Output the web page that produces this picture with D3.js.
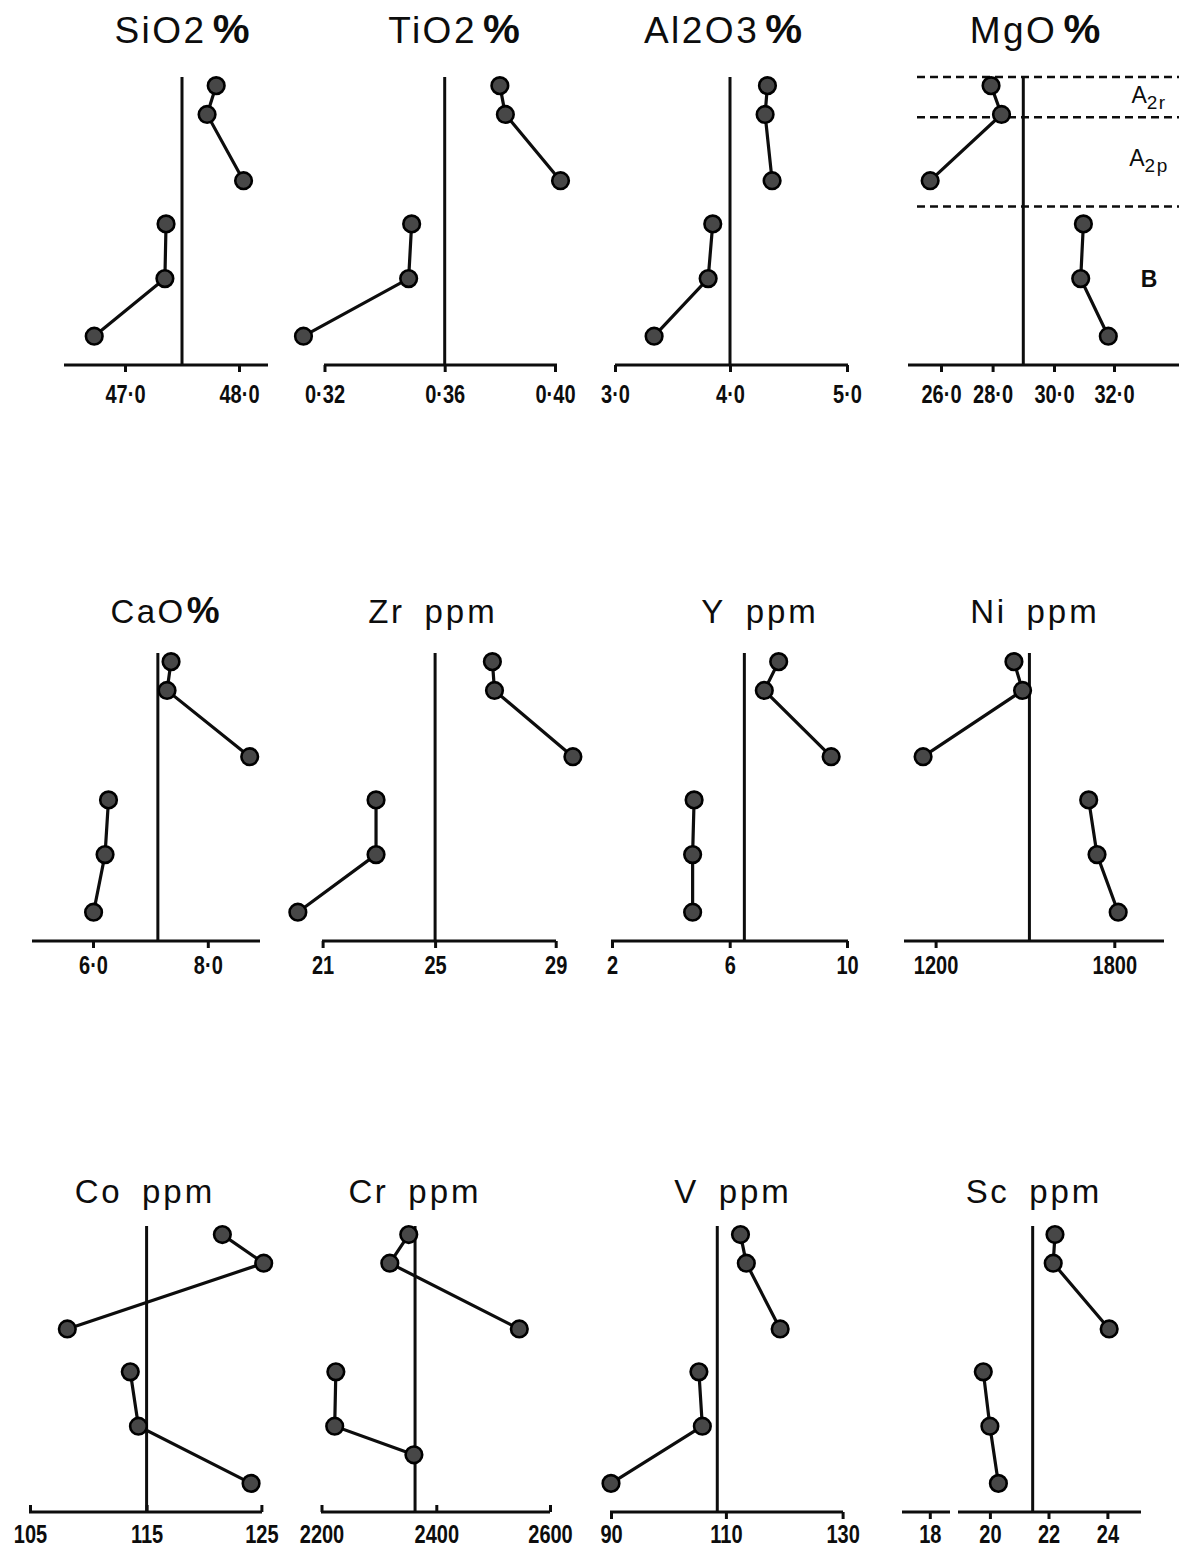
<!DOCTYPE html>
<html>
<head>
<meta charset="utf-8">
<script src="https://cdn.jsdelivr.net/npm/d3@7"></script>
<style>
  body { margin: 0; background: #fff; }
  svg { display: block; }
</style>
</head>
<body>
<svg id="chart" width="1190" height="1551"></svg>
<script>
// Relative sample depth in each profile (0 = top of column, 100 = base line)
const sampleDepth   = [3, 13, 36, 51, 70, 90];
const crSampleDepth = [3, 13, 36, 51, 70, 80];
// Samples joined by a line: upper horizons and lower horizon
const sampleGroups = [[0, 1, 2], [3, 4, 5]];

// Element contents for the six samples
const sio2  = [47.80, 47.72, 48.04, 47.36, 47.35, 46.73];
const tio2  = [0.380, 0.382, 0.402, 0.349, 0.348, 0.313];
const al2o3 = [4.32, 4.30, 4.36, 3.85, 3.81, 3.34];
const mgo   = [27.94, 28.29, 25.58, 30.98, 30.89, 31.81];
const cao   = [7.36, 7.29, 8.73, 6.27, 6.21, 6.01];
const zr    = [26.9, 26.97, 29.57, 22.9, 22.9, 20.12];
const yt    = [7.67, 7.18, 9.46, 4.79, 4.74, 4.74];
const ni    = [1463, 1492, 1158, 1714, 1742, 1813];
const co    = [121.6, 125.2, 108.2, 113.6, 114.3, 124.1];
const cr    = [2352, 2319, 2546, 2225, 2223, 2361];
const v     = [112.5, 113.5, 119.3, 105.3, 105.9, 90.0];
const sc    = [22.22, 22.16, 24.06, 19.78, 20.0, 20.29];

// Reference (parent rock) values drawn as vertical lines
const refValues = [47.5, 0.36, 4.0, 29.0, 7.13, 25, 6.5, 1515, 115, 2363, 108.5, 21.46];

// Axis tick values and their printed labels
const sio2Ticks  = [47.0, 48.0];            const sio2Labels  = ["47·0", "48·0"];
const tio2Ticks  = [0.32, 0.36, 0.40];      const tio2Labels  = ["0·32", "0·36", "0·40"];
const al2o3Ticks = [3.0, 4.0, 5.0];         const al2o3Labels = ["3·0", "4·0", "5·0"];
const mgoTicks   = [26, 28, 30, 32];        const mgoLabels   = ["26·0", "28·0", "30·0", "32·0"];
const caoTicks   = [6.0, 8.0];              const caoLabels   = ["6·0", "8·0"];
const zrTicks    = [21, 25, 29];            const zrLabels    = ["21", "25", "29"];
const yTicks     = [2, 6, 10];              const yLabels     = ["2", "6", "10"];
const niTicks    = [1200, 1800];            const niLabels    = ["1200", "1800"];
const coTicks    = [105, 115, 125];         const coLabels    = ["105", "115", "125"];
const crTicks    = [2200, 2400, 2600];      const crLabels    = ["2200", "2400", "2600"];
const vTicks     = [90, 110, 130];          const vLabels     = ["90", "110", "130"];
const scTicks    = [18, 20, 22, 24];        const scLabels    = ["18", "20", "22", "24"];

// Panel titles
const titleNames = ["SiO2", "TiO2", "Al2O3", "MgO", "CaO", "Zr", "Y", "Ni", "Co", "Cr", "V", "Sc"];
const titleUnits = ["%", "%", "%", "%", "%", "ppm", "ppm", "ppm", "ppm", "ppm", "ppm", "ppm"];

// Soil horizons marked on the MgO profile
const horizonBounds = [0, 14, 45];
const horizonNames  = ["A", "A", "B"];
const horizonSubs   = ["2r", "2p", ""];
const horizonLabelDepth = [9, 31, 73];

const panels = [
  { values: sio2,  ticks: sio2Ticks,  labels: sio2Labels },
  { values: tio2,  ticks: tio2Ticks,  labels: tio2Labels },
  { values: al2o3, ticks: al2o3Ticks, labels: al2o3Labels },
  { values: mgo,   ticks: mgoTicks,   labels: mgoLabels, horizons: true },
  { values: cao,   ticks: caoTicks,   labels: caoLabels },
  { values: zr,    ticks: zrTicks,    labels: zrLabels },
  { values: yt,    ticks: yTicks,     labels: yLabels },
  { values: ni,    ticks: niTicks,    labels: niLabels },
  { values: co,    ticks: coTicks,    labels: coLabels },
  { values: cr,    ticks: crTicks,    labels: crLabels, depth: crSampleDepth },
  { values: v,     ticks: vTicks,     labels: vLabels },
  { values: sc,    ticks: scTicks,    labels: scLabels }
].map((p, i) => Object.assign(p, {
  title: titleNames[i], unit: titleUnits[i], ref: refValues[i],
  depth: p.depth || sampleDepth
}));

// ---- layout -------------------------------------------------------------
const rows = [
  { top: 77,   base: 365,  titleY: 43,   labelY: 403 },
  { top: 653,  base: 941,  titleY: 623,  labelY: 974 },
  { top: 1226, base: 1512, titleY: 1203, labelY: 1543 }
];

// tickX: screen position of each tick (hand-drawn, slightly uneven axes)
const layout = [
  { row: 0, tickX: [125, 239],                 line: [[64, 268]],   titleX: 182,  tickDir: 1 },
  { row: 0, tickX: [324.5, 444.7, 555],        line: [[324, 557]],  titleX: 454,  tickDir: 1 },
  { row: 0, tickX: [615, 730, 847],            line: [[615, 848]],  titleX: 723,  tickDir: 1 },
  { row: 0, tickX: [941, 992.6, 1054, 1114],   line: [[908, 1179]], titleX: 1035, tickDir: 1 },
  { row: 1, tickX: [93, 207.8],                line: [[32, 260]],   titleX: 165,  tickDir: 1 },
  { row: 1, tickX: [322.6, 435.1, 555.7],      line: [[322, 556]],  titleX: 433,  tickDir: 1 },
  { row: 1, tickX: [612, 729.7, 847],          line: [[611, 848]],  titleX: 760,  tickDir: 1 },
  { row: 1, tickX: [935.6, 1114.3],            line: [[904, 1164]], titleX: 1035, tickDir: 1 },
  { row: 2, tickX: [30, 146.6, 261.4],         line: [[29, 262]],   titleX: 145,  tickDir: -1 },
  { row: 2, tickX: [321.5, 436.3, 550],        line: [[321, 550]],  titleX: 415,  tickDir: -1 },
  { row: 2, tickX: [611, 725.9, 842.6],        line: [[610, 843]],  titleX: 733,  tickDir: 1 },
  { row: 2, tickX: [929.8, 989.9, 1048.5, 1107.4], line: [[902, 950], [958, 1141]], titleX: 1034, tickDir: 1 }
];
const mgoDashExtent = [917, 1179];
const horizonLabelX = 1149;

// ---- drawing ------------------------------------------------------------
const svg = d3.select("#chart");
svg.append("rect").attr("width", 1190).attr("height", 1551).attr("fill", "#fff");

const INK = "#0d0d0d";

panels.forEach((p, i) => {
  const L = layout[i];
  const R = rows[L.row];
  const x = d3.scaleLinear().domain(p.ticks).range(L.tickX);
  const y = d3.scaleLinear().domain([0, 100]).range([R.top, R.base]);
  const g = svg.append("g").attr("class", "panel");

  // title
  const t = g.append("text")
    .attr("x", L.titleX).attr("y", R.titleY)
    .attr("text-anchor", "middle")
    .attr("fill", INK)
    .attr("font-family", "'Liberation Sans', Arial, sans-serif");
  const fs = L.row === 0 ? 37 : 33;
  t.append("tspan").text(p.title)
    .attr("font-size", fs).attr("letter-spacing", 2.5);
  if (p.unit === "%") {
    t.append("tspan").text("%")
      .attr("dx", L.row === 0 ? 6 : 1)
      .attr("font-weight", "bold").attr("font-size", fs * 1.12);
  } else {
    t.append("tspan").text("ppm")
      .attr("dx", 20).attr("font-size", fs).attr("letter-spacing", 3);
  }

  // base line of the section
  L.line.forEach(([a, b]) => {
    g.append("line")
      .attr("x1", a).attr("x2", b).attr("y1", R.base).attr("y2", R.base)
      .attr("stroke", INK).attr("stroke-width", 3);
  });

  // ticks and labels (tall, condensed figures)
  const axis = d3.axisBottom(x)
    .tickValues(p.ticks)
    .tickFormat(d => p.labels[p.ticks.indexOf(d)])
    .tickSizeInner(7 * L.tickDir)
    .tickSizeOuter(0);
  const ag = g.append("g").attr("transform", `translate(0,${R.base})`).call(axis);
  ag.select(".domain").remove();
  ag.selectAll(".tick line").attr("stroke", INK).attr("stroke-width", 3);
  ag.selectAll(".tick text")
    .attr("x", 0).attr("y", 0).attr("dy", null)
    .attr("transform", `translate(0,${R.labelY - R.base}) scale(0.8,1)`)
    .attr("fill", INK)
    .attr("font-family", "'Liberation Sans', Arial, sans-serif")
    .attr("font-weight", "bold").attr("font-size", 25);

  // MgO horizons
  if (p.horizons) {
    horizonBounds.forEach(b => {
      g.append("line")
        .attr("x1", mgoDashExtent[0]).attr("x2", mgoDashExtent[1])
        .attr("y1", y(b)).attr("y2", y(b))
        .attr("stroke", INK).attr("stroke-width", 2.5)
        .attr("stroke-dasharray", "8,5");
    });
    horizonNames.forEach((n, k) => {
      const ht = g.append("text")
        .attr("x", horizonLabelX).attr("y", y(horizonLabelDepth[k]))
        .attr("text-anchor", "middle").attr("fill", INK)
        .attr("font-family", "'Liberation Sans', Arial, sans-serif")
        .attr("font-size", 23).attr("font-weight", k === 2 ? "bold" : "normal");
      ht.append("tspan").text(n);
      if (horizonSubs[k]) {
        ht.append("tspan").text(horizonSubs[k])
          .attr("dy", 6).attr("font-size", 19).attr("letter-spacing", 1.5);
      }
    });
  }

  // reference line
  g.append("line")
    .attr("x1", x(p.ref)).attr("x2", x(p.ref))
    .attr("y1", y(0)).attr("y2", R.base)
    .attr("stroke", INK).attr("stroke-width", 3);

  // profile lines
  const pts = p.values.map((val, k) => ({ v: val, d: p.depth[k] }));
  const line = d3.line().x(d => x(d.v)).y(d => y(d.d));
  sampleGroups.forEach(grp => {
    g.append("path")
      .datum(grp.map(k => pts[k]))
      .attr("d", line)
      .attr("fill", "none").attr("stroke", INK).attr("stroke-width", 3.2);
  });

  // sample markers
  g.selectAll("circle.sample").data(pts).enter().append("circle")
    .attr("class", "sample")
    .attr("cx", d => x(d.v)).attr("cy", d => y(d.d))
    .attr("r", 8.3)
    .attr("fill", "#474747")
    .attr("stroke", "#000").attr("stroke-width", 2.6);
});
</script>
</body>
</html>
